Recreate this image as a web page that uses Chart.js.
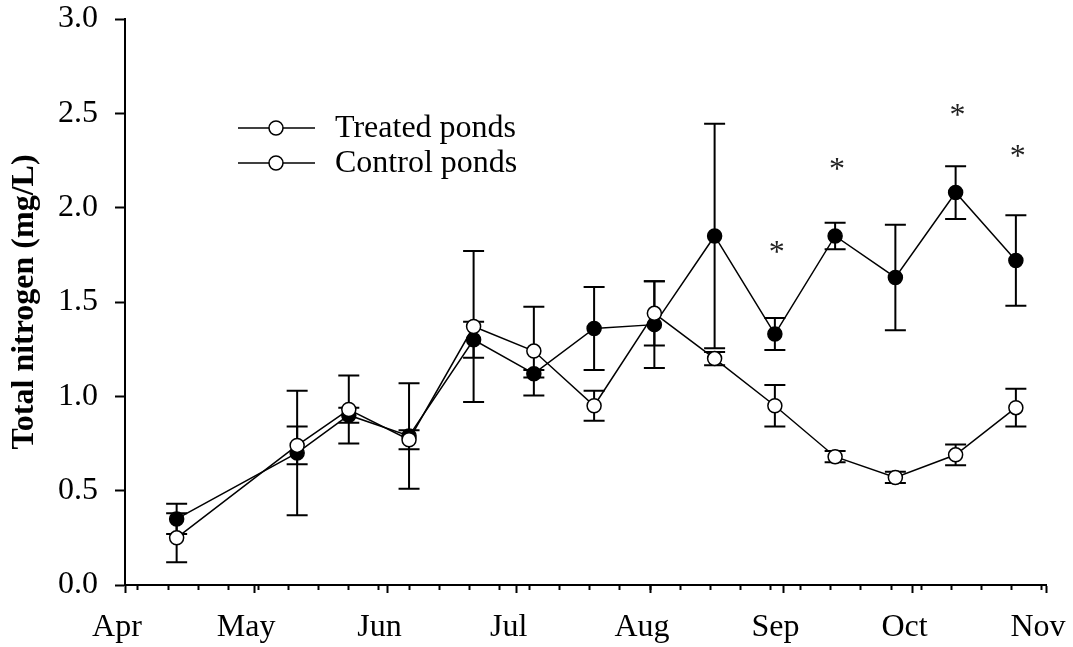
<!DOCTYPE html>
<html>
<head>
<meta charset="utf-8">
<script src="https://cdn.jsdelivr.net/npm/chart.js@4.4.1/dist/chart.umd.min.js"></script>
<style>
  html, body { margin: 0; padding: 0; background: #fff; }
  #wrap { width: 1073px; height: 647px; }
</style>
</head>
<body>
<div id="wrap"><canvas id="tnChart" width="1073" height="647"></canvas></div>
<script>
// Sampling dates as days after 1 April
const sampleDays = [12, 40, 52, 66, 81, 95, 109, 123, 137, 151, 165, 179, 193, 207];

// Total nitrogen (mg/L), mean and SE
const treatedMean = [0.35, 0.70, 0.90, 0.79, 1.30, 1.12, 1.36, 1.38, 1.85, 1.33, 1.85, 1.63, 2.08, 1.72];
const treatedErr  = [0.08, 0.33, 0.04, 0.28, 0.095, 0.02, 0.22, 0.23, 0.595, 0.085, 0.07, 0.28, 0.14, 0.24];
const controlMean = [0.25, 0.74, 0.93, 0.77, 1.37, 1.24, 0.95, 1.44, 1.20, 0.95, 0.68, 0.57, 0.69, 0.94];
const controlErr  = [0.13, 0.10, 0.18, 0.05, 0.40, 0.235, 0.08, 0.17, 0.035, 0.11, 0.03, 0.03, 0.055, 0.10];

// Significant differences (*) : sample index and height
const sigIndex = [9, 10, 12, 13];
const sigLevel = [1.79, 2.23, 2.52, 2.30];

// Axis ticks
const monthLabels = ['Apr', 'May', 'Jun', 'Jul', 'Aug', 'Sep', 'Oct', 'Nov'];
const monthStarts = [0, 30, 61, 91, 122, 153, 183, 214];
const weekTicks = [];
for (let d = 3; d <= 213; d += 7) weekTicks.push(d);

const legendLabels = ['Treated ponds', 'Control ponds'];

const SERIF = '"Liberation Serif", "Times New Roman", serif';

const toPoints = (mean) => sampleDays.map((d, i) => ({ x: d, y: mean[i] }));

// error bars drawn under the markers
const errorBars = {
    id: 'errorBars',
    beforeDatasetsDraw(chart) {
        const { ctx, scales: { x, y } } = chart;
        const sets = [[treatedMean, treatedErr], [controlMean, controlErr]];
        ctx.save();
        ctx.strokeStyle = '#000';
        ctx.lineWidth = 2;
        sets.forEach(([mean, err]) => {
            sampleDays.forEach((d, i) => {
                const px = x.getPixelForValue(d);
                const top = y.getPixelForValue(mean[i] + err[i]);
                const bot = y.getPixelForValue(mean[i] - err[i]);
                ctx.beginPath();
                ctx.moveTo(px, top); ctx.lineTo(px, bot);
                ctx.moveTo(px - 10.5, top); ctx.lineTo(px + 10.5, top);
                ctx.moveTo(px - 10.5, bot); ctx.lineTo(px + 10.5, bot);
                ctx.stroke();
            });
        });
        ctx.restore();
    }
};

// asterisks above significant dates
const sigMarks = {
    id: 'sigMarks',
    afterDatasetsDraw(chart) {
        const { ctx, scales: { x, y } } = chart;
        ctx.save();
        ctx.fillStyle = '#222';
        ctx.font = '32px ' + SERIF;
        ctx.textAlign = 'center';
        ctx.textBaseline = 'alphabetic';
        const m = ctx.measureText('*');
        const shift = (m.actualBoundingBoxAscent - m.actualBoundingBoxDescent) / 2;
        sigIndex.forEach((idx, i) => {
            ctx.fillText('*', x.getPixelForValue(sampleDays[idx]) + 2, y.getPixelForValue(sigLevel[i]) + shift);
        });
        ctx.restore();
    }
};

// legend inside the plot: line with open circle, then label
const innerLegend = {
    id: 'innerLegend',
    afterDraw(chart) {
        const ctx = chart.ctx;
        ctx.save();
        legendLabels.forEach((txt, i) => {
            const ly = 128 + i * 35;
            ctx.strokeStyle = '#000';
            ctx.lineWidth = 1.5;
            ctx.beginPath();
            ctx.moveTo(238, ly); ctx.lineTo(315, ly);
            ctx.stroke();
            ctx.beginPath();
            ctx.arc(276, ly, 7, 0, Math.PI * 2);
            ctx.fillStyle = '#fff';
            ctx.fill();
            ctx.stroke();
            ctx.fillStyle = '#000';
            ctx.font = '32px ' + SERIF;
            ctx.textAlign = 'left';
            ctx.textBaseline = 'middle';
            ctx.fillText(txt, 335, ly + 1);
        });
        ctx.restore();
    }
};

const ctx = document.getElementById('tnChart').getContext('2d');
new Chart(ctx, {
    type: 'line',
    data: {
        datasets: [
            {
                label: legendLabels[0],
                data: toPoints(treatedMean),
                borderColor: '#000',
                borderWidth: 1.5,
                pointRadius: 7,
                pointBorderWidth: 1.5,
                pointBackgroundColor: '#000',
                pointBorderColor: '#000',
                tension: 0,
                order: 1
            },
            {
                label: legendLabels[1],
                data: toPoints(controlMean),
                borderColor: '#000',
                borderWidth: 1.5,
                pointRadius: 7,
                pointBorderWidth: 1.5,
                pointBackgroundColor: '#fff',
                pointBorderColor: '#000',
                tension: 0,
                order: 0
            }
        ]
    },
    options: {
        responsive: false,
        animation: false,
        devicePixelRatio: 1,
        layout: { padding: { top: 19, right: 27, bottom: 0, left: 0 } },
        plugins: {
            legend: { display: false },
            tooltip: { enabled: false }
        },
        scales: {
            x: {
                type: 'linear',
                min: 0,
                max: 214,
                afterBuildTicks: (s) => { s.ticks = monthStarts.map(v => ({ value: v })); },
                afterFit: (s) => { s.height = 62; s.paddingLeft = 0; s.paddingRight = 0; },
                ticks: {
                    autoSkip: false,
                    maxRotation: 0,
                    padding: 15,
                    labelOffset: -8,
                    color: '#000',
                    font: { family: SERIF, size: 32 },
                    callback: (v, i) => monthLabels[i]
                },
                grid: { drawOnChartArea: false, tickLength: 8, tickWidth: 2, tickColor: '#000' },
                border: { display: true, color: '#000', width: 2 }
            },
            // weekly minor ticks on the date axis
            xWeek: {
                type: 'linear',
                position: 'bottom',
                weight: -1,
                min: 0,
                max: 214,
                afterBuildTicks: (s) => { s.ticks = weekTicks.map(v => ({ value: v })); },
                afterFit: (s) => { s.height = 0; s.paddingLeft = 0; s.paddingRight = 0; },
                ticks: { display: false },
                grid: { drawOnChartArea: false, tickLength: 5, tickWidth: 2, tickColor: '#000' },
                border: { display: false }
            },
            y: {
                min: 0,
                max: 3,
                afterFit: (s) => { s.width = 125; s.paddingTop = 0; s.paddingBottom = 0; },
                ticks: {
                    stepSize: 0.5,
                    padding: 17,
                    color: '#000',
                    font: { family: SERIF, size: 32 },
                    callback: (v) => v.toFixed(1)
                },
                grid: { drawOnChartArea: false, tickLength: 10, tickWidth: 2, tickColor: '#000' },
                border: { display: true, color: '#000', width: 2 },
                title: {
                    display: true,
                    text: 'Total nitrogen (mg/L)',
                    color: '#000',
                    font: { family: SERIF, size: 32, weight: 'bold' },
                    padding: { top: 6, bottom: 0 }
                }
            }
        }
    },
    plugins: [errorBars, sigMarks, innerLegend]
});
</script>
</body>
</html>
